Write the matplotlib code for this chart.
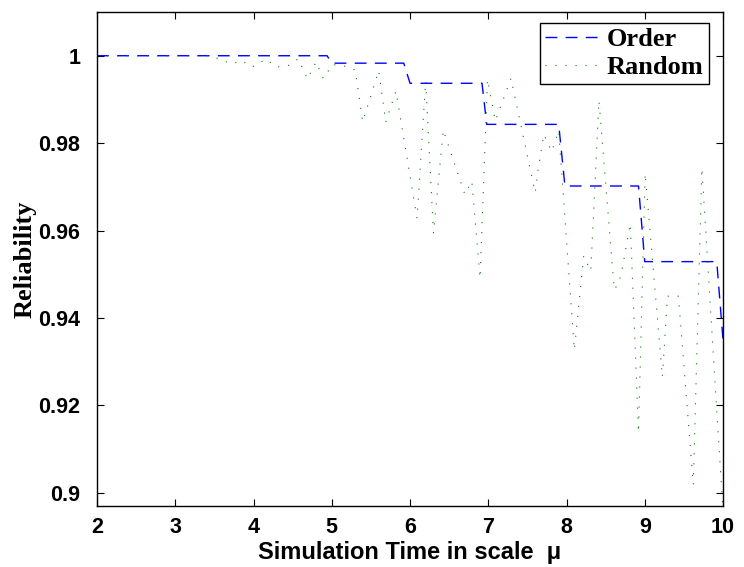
"""
Reliability vs simulation time: ordered vs random scheduling.
Values read off the original MATLAB figure.
"""

import matplotlib
matplotlib.use("Agg")
import matplotlib.pyplot as plt
from matplotlib.ticker import FormatStrFormatter

# --- data -------------------------------------------------------------------
order_t = [2.0, 4.94, 5.0, 5.92, 6.0, 6.92, 6.98, 7.9, 7.98, 8.92, 9.0, 9.92, 10.0]
order_r = [1.0, 1.0, 0.9983, 0.9983, 0.9937, 0.9937, 0.9843, 0.9843,
           0.9702, 0.9702, 0.9529, 0.9529, 0.935]

random_t = [2.0, 3.45, 3.61, 3.72, 3.85, 3.98, 4.16, 4.29, 4.45, 4.57, 4.69,
            4.80, 4.89, 5.01, 5.21, 5.30, 5.395, 5.60, 5.69, 5.82, 6.09,
            6.20, 6.30, 6.425, 6.70, 6.79, 6.895, 6.99, 7.09, 7.29, 7.60,
            7.64, 7.71, 7.81, 7.90, 8.10, 8.22, 8.26, 8.31, 8.415, 8.61,
            8.64, 8.695, 8.815, 8.92, 9.005, 9.225, 9.29, 9.43, 9.62, 9.73,
            9.92, 10.0]
random_r = [1.0, 1.0, 0.9989, 0.9981, 0.9989, 0.9974, 0.9992, 0.9974, 0.9978,
            0.9993, 0.9947, 0.9986, 0.9948, 0.9980, 0.9975, 0.9967, 0.9849,
            0.9966, 0.9848, 0.9919, 0.9628, 0.9942, 0.9594, 0.9830, 0.9683,
            0.9713, 0.9491, 0.9946, 0.9851, 0.9948, 0.9687, 0.9743, 0.9820,
            0.9781, 0.9828, 0.9327, 0.9542, 0.9526, 0.9508, 0.9897, 0.9465,
            0.9473, 0.9496, 0.9616, 0.9138, 0.9731, 0.9265, 0.9450, 0.9450,
            0.9019, 0.9743, 0.9188, 0.8960]

x_ticks = [2, 3, 4, 5, 6, 7, 8, 9, 10]
y_ticks = [0.9, 0.92, 0.94, 0.96, 0.98, 1.0]

# --- figure -----------------------------------------------------------------
SANS = ["Liberation Sans", "DejaVu Sans"]
SERIF = ["Liberation Serif", "DejaVu Serif"]

fig = plt.figure(figsize=(7.44, 5.67), dpi=100)
ax = fig.add_axes([0.1304, 0.1076, 0.8414, 0.8712])

ax.plot(order_t, order_r, color="b", lw=1.0, dashes=(8.5, 6), label="Order")
ax.plot(random_t, random_r, color="#008000", lw=0.8, linestyle=(0, (1, 8)),
        label="Random")

ax.set_xlim(2, 10)
ax.set_ylim(0.897, 1.01)
ax.set_xticks(x_ticks)
ax.set_yticks(y_ticks)
ax.yaxis.set_major_formatter(FormatStrFormatter("%g"))

# MATLAB style: inward ticks on all four sides
ax.tick_params(direction="in", length=5, width=0.8, top=True, right=True)
ax.tick_params(axis="x", pad=8)
ax.tick_params(axis="y", pad=12)
for lab in ax.get_xticklabels() + ax.get_yticklabels():
    lab.set_family(SANS)
    lab.set_fontweight("bold")
    lab.set_fontsize(15.5)
for sp in ax.spines.values():
    sp.set_linewidth(1.0)

ax.set_xlabel("Simulation Time in scale  μ", family=SANS, fontweight="bold",
              fontsize=17, labelpad=2)
ax.set_ylabel("Reliability", family=SERIF, fontweight="bold", fontsize=19,
              labelpad=1)

leg = ax.legend(loc="upper right", bbox_to_anchor=(0.9776, 0.9783),
                borderaxespad=0, fancybox=False, framealpha=1,
                edgecolor="black", handlelength=2.1, handletextpad=0.25,
                labelspacing=0.15, borderpad=0.2,
                prop={"family": SERIF, "weight": "bold", "size": 19})
leg.get_frame().set_linewidth(1.0)

fig.savefig("out.png", dpi=100)
